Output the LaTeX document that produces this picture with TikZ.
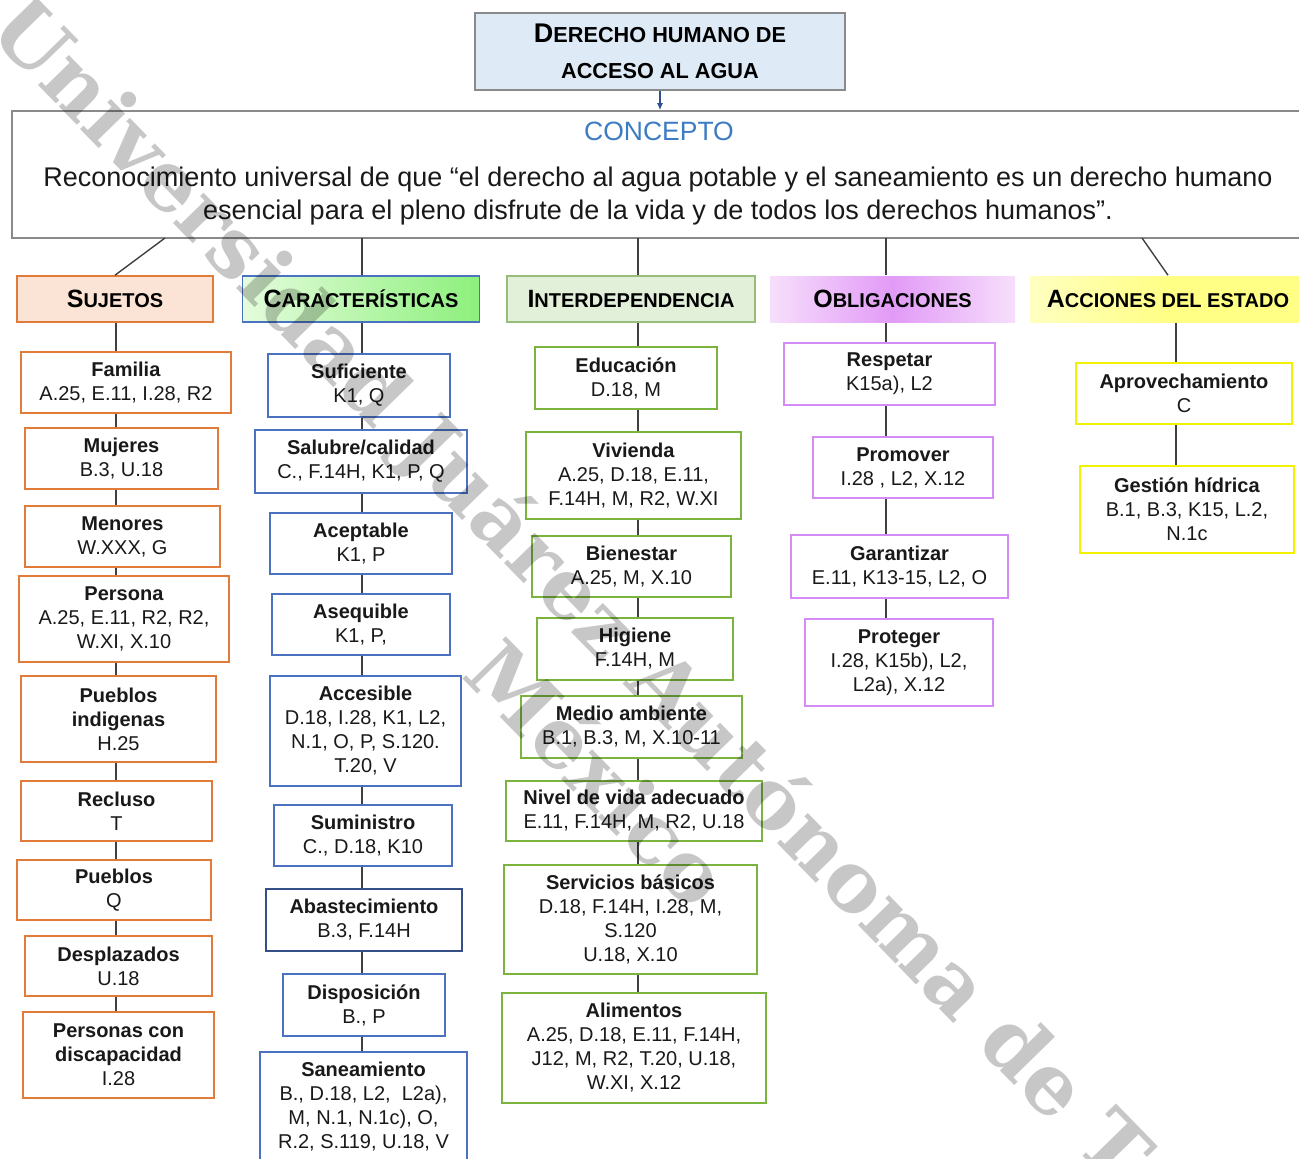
\documentclass[tikz,border=0pt]{standalone}
\usepackage{fontspec}
\setmainfont{Liberation Sans}
\newfontfamily\markfont{DejaVu Serif}
\usetikzlibrary{arrows.meta}

\definecolor{sujline}{HTML}{E07B39}
\definecolor{sujfill}{HTML}{FBE4D5}
\definecolor{carline}{HTML}{4A72C0}
\definecolor{carpale}{HTML}{E4FCDC}
\definecolor{cardeep}{HTML}{8DF07C}
\definecolor{intline}{HTML}{7AB33E}
\definecolor{inthead}{HTML}{97BD78}
\definecolor{intfill}{HTML}{E2EFD9}
\definecolor{oblline}{HTML}{D68AF5}
\definecolor{oblpale}{HTML}{F6DFFB}
\definecolor{obldeep}{HTML}{E29AF7}
\definecolor{accline}{HTML}{F2F200}
\definecolor{accpale}{HTML}{FFFFC0}
\definecolor{accdeep}{HTML}{FFFF85}
\definecolor{titfill}{HTML}{DEEAF6}
\definecolor{boxgray}{HTML}{8A8A8A}
\definecolor{conblue}{HTML}{3D7CC2}
\definecolor{arrowblue}{HTML}{2F4F8F}
\definecolor{linkgray}{HTML}{404040}

\newcommand{\bcap}[2]{{\fontsize{#1}{#1}\selectfont #2}}

\tikzset{
  wh/.style 2 args={minimum width=#1, minimum height=#2},
  box/.style={draw, fill=white, line width=1.6pt, align=center, inner sep=0pt,
    text=black!90, font=\fontsize{20}{24}\selectfont},
  sujbox/.style={box, draw=sujline},
  carbox/.style={box, draw=carline},
  intbox/.style={box, draw=intline},
  oblbox/.style={box, draw=oblline},
  accbox/.style={box, draw=accline},
  header/.style={line width=1.6pt, inner sep=0pt, minimum height=46,
    font=\bfseries\fontsize{20}{24}\selectfont},
  link/.style={draw=linkgray, line width=1.4pt},
  marktext/.style={rotate=-45.7, inner sep=0pt, text=black, text opacity=0.22,
    font=\markfont\bfseries\fontsize{83}{83}\selectfont},
}

\begin{document}
\begin{tikzpicture}[x=1pt, y=-1pt]
\useasboundingbox (0,0) rectangle (1299,1159);
\clip (0,0) rectangle (1299,1159);

% title and concept
\node[draw=boxgray, fill=titfill, line width=1.6pt, wh={370}{77}, align=center,
  font=\bfseries\fontsize{21.7}{36}\selectfont] (title) at (660,51.5)
  {\bcap{27}{D}ERECHO HUMANO DE\\ACCESO AL AGUA};
\node[draw=boxgray, line width=1.6pt, wh={1300}{127}] (concept) at (662,174.5) {};
\node[text=conblue, font=\fontsize{26.5}{30}\selectfont] (conlabel) at (659,131) {CONCEPTO};
\node[align=center, text=black!90, font=\fontsize{27}{33}\selectfont] (contxt) at (658,196.5)
  {Reconocimiento universal de que “el derecho al agua potable y el saneamiento es un derecho humano\\
   esencial para el pleno disfrute de la vida y de todos los derechos humanos”.};
\draw[-{Latex[length=7pt,width=6pt]}, draw=arrowblue, fill=arrowblue, line width=1.2pt]
  (title.south) -- (title.south |- concept.north);

% headers
\node[header, draw=sujline, fill=sujfill, minimum width=196] (suj) at (115,299) {\bcap{25}{S}UJETOS};
\node[header, draw=carline, left color=carpale, right color=cardeep, minimum width=237] (car) at (361,299) {\bcap{25}{C}ARACTERÍSTICAS};
\node[header, draw=inthead, fill=intfill, minimum width=248] (int) at (631,299) {\bcap{25}{I}NTERDEPENDENCIA};
\node[header, left color=oblpale, right color=oblpale, middle color=obldeep, minimum width=245] (obl) at (892.5,299) {\bcap{25}{O}BLIGACIONES};
\node[header, left color=accpale, right color=accdeep, middle color=accdeep, minimum width=276] (acc) at (1168,299) {\bcap{25}{A}CCIONES DEL ESTADO};

\coordinate (k1) at (165,238);
\coordinate (k2) at (362,238);
\coordinate (k3) at (638,238);
\coordinate (k4) at (886,238);
\coordinate (k5) at (1142,238);
\draw[link] (k1) -- (suj.north);
\draw[link] (k2) -- (k2 |- car.north);
\draw[link] (k3) -- (k3 |- int.north);
\draw[link] (k4) -- (k4 |- obl.north);
\draw[link] (k5) -- (acc.north);

% sujetos
\node[sujbox, wh={210}{61}] (fam) at (126,382.5) {\textbf{Familia}\\A.25, E.11, I.28, R2};
\node[sujbox, wh={193}{61}] (muj) at (121.5,458.5) {\textbf{Mujeres}\\B.3, U.18};
\node[sujbox, wh={195}{61}] (men) at (122.5,536.5) {\textbf{Menores}\\W.XXX, G};
\node[sujbox, wh={210}{86}] (per) at (124,619) {\textbf{Persona}\\A.25, E.11, R2, R2,\\W.XI, X.10};
\node[sujbox, wh={195}{86}] (pin) at (118.5,719) {\textbf{Pueblos}\\\textbf{indigenas}\\H.25};
\node[sujbox, wh={191}{60}] (rec) at (116.5,811) {\textbf{Recluso}\\T};
\node[sujbox, wh={194}{60}] (pue) at (114,890) {\textbf{Pueblos}\\Q};
\node[sujbox, wh={187}{60}] (des) at (118.5,966) {\textbf{Desplazados}\\U.18};
\node[sujbox, wh={191}{86}] (dis) at (118.5,1055) {\textbf{Personas con}\\\textbf{discapacidad}\\I.28};

% caracteristicas
\node[carbox, wh={182}{63}] (suf) at (359,385.5) {\textbf{Suficiente}\\K1, Q};
\node[carbox, wh={212}{63}] (sal) at (361,461.5) {\textbf{Salubre/calidad}\\C., F.14H, K1, P, Q};
\node[carbox, wh={182}{61}] (ace) at (361,543.5) {\textbf{Aceptable}\\K1, P};
\node[carbox, wh={178}{61}] (ase) at (361,624.5) {\textbf{Asequible}\\K1, P,};
\node[carbox, wh={191}{110}] (acs) at (365.5,731) {\textbf{Accesible}\\D.18, I.28, K1, L2,\\N.1, O, P, S.120.\\T.20, V};
\node[carbox, wh={178}{61}] (sum) at (363,835.5) {\textbf{Suministro}\\C., D.18, K10};
\node[carbox, wh={196}{62}, draw=carline!70!black] (aba) at (364,920) {\textbf{Abastecimiento}\\B.3, F.14H};
\node[carbox, wh={162}{62}] (dsp) at (364,1005) {\textbf{Disposición}\\B., P};
\node[carbox, wh={207}{110}] (san) at (363.5,1107) {\textbf{Saneamiento}\\B., D.18, L2,~ L2a),\\M, N.1, N.1c), O,\\R.2, S.119, U.18, V};

% interdependencia
\node[intbox, wh={182}{62}] (edu) at (626,378) {\textbf{Educación}\\D.18, M};
\node[intbox, wh={215}{87}] (viv) at (633.5,475.5) {\textbf{Vivienda}\\A.25, D.18, E.11,\\F.14H, M, R2, W.XI};
\node[intbox, wh={199}{61}] (bie) at (631.5,566.5) {\textbf{Bienestar}\\A.25, M, X.10};
\node[intbox, wh={196}{62}] (hig) at (635,649) {\textbf{Higiene}\\F.14H, M};
\node[intbox, wh={221}{62}] (med) at (631.5,727) {\textbf{Medio ambiente}\\B.1, B.3, M, X.10-11};
\node[intbox, wh={256}{60}] (niv) at (634,811) {\textbf{Nivel de vida adecuado}\\E.11, F.14H, M, R2, U.18};
\node[intbox, wh={253}{109}] (ser) at (630.5,919.5) {\textbf{Servicios básicos}\\D.18, F.14H, I.28, M,\\S.120\\U.18, X.10};
\node[intbox, wh={264}{110}] (ali) at (634,1048) {\textbf{Alimentos}\\A.25, D.18, E.11, F.14H,\\J12, M, R2, T.20, U.18,\\W.XI, X.12};

% obligaciones
\node[oblbox, wh={211}{62}] (res) at (889.5,374) {\textbf{Respetar}\\K15a), L2};
\node[oblbox, wh={180}{61}] (pro) at (903,467.5) {\textbf{Promover}\\I.28 , L2, X.12};
\node[oblbox, wh={217}{63}] (gar) at (899.5,566.5) {\textbf{Garantizar}\\E.11, K13-15, L2, O};
\node[oblbox, wh={188}{87}] (prt) at (899,662.5) {\textbf{Proteger}\\I.28, K15b), L2,\\L2a), X.12};

% acciones del estado
\node[accbox, wh={216}{61}] (apr) at (1184,393.5) {\textbf{Aprovechamiento}\\C};
\node[accbox, wh={214}{87}] (ges) at (1187,509.5) {\textbf{Gestión hídrica}\\B.1, B.3, K15, L.2,\\N.1c};

% column lines
\coordinate (ax1) at (116,0);
\coordinate (ax2) at (362,0);
\coordinate (ax3) at (638,0);
\coordinate (ax4) at (886,0);
\coordinate (ax5) at (1176,0);
\foreach \a/\b in {suj/fam,fam/muj,muj/men,men/per,per/pin,pin/rec,rec/pue,pue/des,des/dis}
  \draw[link] (ax1 |- \a.south) -- (ax1 |- \b.north);
\foreach \a/\b in {car/suf,suf/sal,sal/ace,ace/ase,ase/acs,acs/sum,sum/aba,aba/dsp,dsp/san}
  \draw[link] (ax2 |- \a.south) -- (ax2 |- \b.north);
\foreach \a/\b in {int/edu,edu/viv,viv/bie,bie/hig,hig/med,med/niv,niv/ser,ser/ali}
  \draw[link] (ax3 |- \a.south) -- (ax3 |- \b.north);
\foreach \a/\b in {obl/res,res/pro,pro/gar,gar/prt}
  \draw[link] (ax4 |- \a.south) -- (ax4 |- \b.north);
\foreach \a/\b in {acc/apr,apr/ges}
  \draw[link] (ax5 |- \a.south) -- (ax5 |- \b.north);

% watermark
\node[marktext, anchor=base west] (marca) at (-14,32) {Universidad Juárez Autónoma de Tabasco};
\node[marktext] (marcab) at (600,772) {México};
\end{tikzpicture}
\end{document}
